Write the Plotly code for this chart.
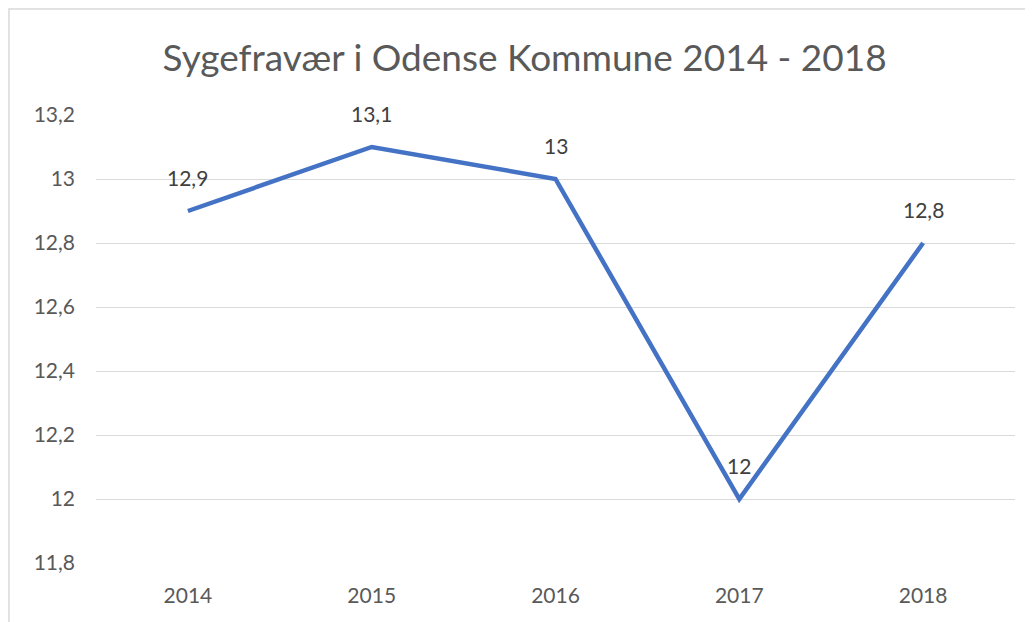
import plotly.graph_objects as go

years = ["2014", "2015", "2016", "2017", "2018"]
values = [12.9, 13.1, 13.0, 12.0, 12.8]
ytick_vals = [11.8, 12.0, 12.2, 12.4, 12.6, 12.8, 13.0, 13.2]
ytick_text = ["11,8", "12", "12,2", "12,4", "12,6", "12,8", "13", "13,2"]
title = "Sygefravær i Odense Kommune 2014 - 2018"

def fmt(v):
    s = ("%.1f" % v).rstrip("0").rstrip(".")
    return s.replace(".", ",")

FONT = "Lato, Open Sans, Liberation Sans"

fig = go.Figure()
fig.add_trace(go.Scatter(
    x=years, y=values, mode="lines",
    line=dict(color="#4472C4", width=4.5),
    hoverinfo="skip", showlegend=False,
))

for i, v in enumerate(values):
    fig.add_annotation(x=i, y=v, xref="x", yref="y", text=fmt(v), showarrow=False, yshift=34,
                       font=dict(family=FONT, size=21, color="#404040"))

fig.add_shape(type="rect", xref="paper", yref="paper",
              x0=-0.0947, x1=1.03, y0=-0.2, y1=1.2366,
              line=dict(color="#d9d9d9", width=1.5), fillcolor="rgba(0,0,0,0)", layer="below")

fig.update_layout(
    width=1025, height=614,
    margin=dict(l=88, r=18, t=107, b=59),
    paper_bgcolor="white", plot_bgcolor="white",
    title=dict(text=title, xref="container", x=0.504, xanchor="center",
               yref="container", y=0.9186, yanchor="middle",
               font=dict(family=FONT, size=37, color="#595959")),
    xaxis=dict(type="category", showgrid=False, showline=False, zeroline=False,
               tickfont=dict(family=FONT, size=21, color="#595959"),
               ticks="", ticklabelstandoff=18, range=[-0.5, 4.5]),
    yaxis=dict(range=[11.8, 13.2], tickvals=ytick_vals, ticktext=ytick_text,
               showgrid=True, gridcolor="#d9d9d9", gridwidth=1, zeroline=False, showline=False,
               tickfont=dict(family=FONT, size=21, color="#595959"),
               ticks="", ticklabelstandoff=20),
)

fig.write_html("out.html")
